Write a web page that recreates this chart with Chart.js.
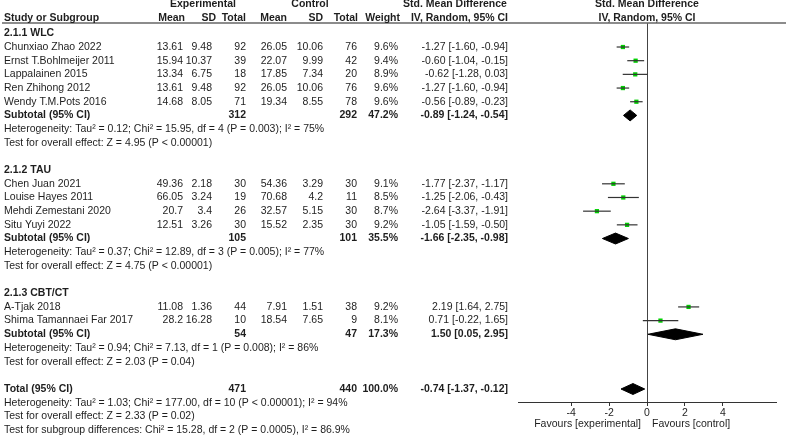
<!DOCTYPE html>
<html>
<head>
<meta charset="utf-8">
<script src="https://cdn.jsdelivr.net/npm/chart.js"></script>
<style>
  html, body { margin: 0; padding: 0; background: #fff; }
  #wrap { position: relative; width: 786px; height: 437px; }
</style>
</head>
<body>
<div id="wrap"><canvas id="forest"></canvas></div>
<script>
// study data
const studies = ['Chunxiao Zhao 2022', 'Ernst T.Bohlmeijer 2011', 'Lappalainen 2015', 'Ren Zhihong 2012', 'Wendy T.M.Pots 2016',
  'Chen Juan 2021', 'Louise Hayes 2011', 'Mehdi Zemestani 2020', 'Situ Yuyi 2022',
  'A-Tjak 2018', 'Shima Tamannaei Far 2017'];
const studyGroup = [0, 0, 0, 0, 0, 1, 1, 1, 1, 2, 2];
const expMean = ['13.61', '15.94', '13.34', '13.61', '14.68', '49.36', '66.05', '20.7', '12.51', '11.08', '28.2'];
const expSD = ['9.48', '10.37', '6.75', '9.48', '8.05', '2.18', '3.24', '3.4', '3.26', '1.36', '16.28'];
const expN = [92, 39, 18, 92, 71, 30, 19, 26, 30, 44, 10];
const ctrlMean = ['26.05', '22.07', '17.85', '26.05', '19.34', '54.36', '70.68', '32.57', '15.52', '7.91', '18.54'];
const ctrlSD = ['10.06', '9.99', '7.34', '10.06', '8.55', '3.29', '4.2', '5.15', '2.35', '1.51', '7.65'];
const ctrlN = [76, 42, 20, 76, 78, 30, 11, 30, 30, 38, 9];
const weight = [9.6, 9.4, 8.9, 9.6, 9.6, 9.1, 8.5, 8.7, 9.2, 9.2, 8.1];
const smd = [-1.27, -0.60, -0.62, -1.27, -0.56, -1.77, -1.25, -2.64, -1.05, 2.19, 0.71];
const ciLow = [-1.60, -1.04, -1.28, -1.60, -0.89, -2.37, -2.06, -3.37, -1.59, 1.64, -0.22];
const ciHigh = [-0.94, -0.15, 0.03, -0.94, -0.23, -1.17, -0.43, -1.91, -0.50, 2.75, 1.65];

// subgroups
const groups = ['2.1.1 WLC', '2.1.2 TAU', '2.1.3 CBT/CT'];
const groupExpN = [312, 105, 54];
const groupCtrlN = [292, 101, 47];
const groupWeight = [47.2, 35.5, 17.3];
const groupSmd = [-0.89, -1.66, 1.50];
const groupLow = [-1.24, -2.35, 0.05];
const groupHigh = [-0.54, -0.98, 2.95];
const groupHet = [
  'Heterogeneity: Tau\u00b2 = 0.12; Chi\u00b2 = 15.95, df = 4 (P = 0.003); I\u00b2 = 75%',
  'Heterogeneity: Tau\u00b2 = 0.37; Chi\u00b2 = 12.89, df = 3 (P = 0.005); I\u00b2 = 77%',
  'Heterogeneity: Tau\u00b2 = 0.94; Chi\u00b2 = 7.13, df = 1 (P = 0.008); I\u00b2 = 86%'
];
const groupTest = [
  'Test for overall effect: Z = 4.95 (P < 0.00001)',
  'Test for overall effect: Z = 4.75 (P < 0.00001)',
  'Test for overall effect: Z = 2.03 (P = 0.04)'
];

// overall
const totalExpN = 471;
const totalCtrlN = 440;
const totalWeight = 100.0;
const totalSmd = -0.74;
const totalLow = -1.37;
const totalHigh = -0.12;
const totalNotes = [
  'Heterogeneity: Tau\u00b2 = 1.03; Chi\u00b2 = 177.00, df = 10 (P < 0.00001); I\u00b2 = 94%',
  'Test for overall effect: Z = 2.33 (P = 0.02)',
  'Test for subgroup differences: Chi\u00b2 = 15.28, df = 2 (P = 0.0005), I\u00b2 = 86.9%'
];

const xTicks = [-4, -2, 0, 2, 4];

// row layout (row 0/1 = headers)
const studyRow = [];
const groupRow = [];
const subRow = [];
let r = 2;
groups.forEach((g, gi) => {
  groupRow.push(r);
  r++;
  studies.forEach((s, i) => { if (studyGroup[i] === gi) studyRow[i] = r++; });
  subRow.push(r);
  r += 4; // subtotal, heterogeneity, test, blank
});
const totalRow = r;

const FONT = '"Liberation Sans", Arial, sans-serif';
const FS = '10.5px ';
const fmt = v => v.toFixed(2);
const ciText = (e, l, h) => fmt(e) + ' [' + fmt(l) + ', ' + fmt(h) + ']';

const diamond = (est, lo, hi, row) => ([
  { x: lo, y: row }, { x: est, y: row - 0.4 }, { x: hi, y: row }, { x: est, y: row + 0.4 }, { x: lo, y: row }
]);

const datasets = [];
studies.forEach((s, i) => {
  datasets.push({
    data: [{ x: ciLow[i], y: studyRow[i] }, { x: ciHigh[i], y: studyRow[i] }],
    showLine: true, borderColor: '#333', borderWidth: 1.2, pointRadius: 0
  });
});
datasets.push({
  data: smd.map((v, i) => ({ x: v, y: studyRow[i] })),
  pointStyle: 'rect', pointRadius: 3, backgroundColor: '#00d000', borderWidth: 0
});
groups.forEach((g, gi) => {
  datasets.push({
    data: diamond(groupSmd[gi], groupLow[gi], groupHigh[gi], subRow[gi]),
    showLine: true, fill: 'shape', backgroundColor: '#000', borderColor: '#000', borderWidth: 1, pointRadius: 0, tension: 0
  });
});
datasets.push({
  data: diamond(totalSmd, totalLow, totalHigh, totalRow),
  showLine: true, fill: 'shape', backgroundColor: '#000', borderColor: '#000', borderWidth: 1, pointRadius: 0, tension: 0
});

const tablePlugin = {
  id: 'table',
  afterDraw(chart) {
    const ctx = chart.ctx;
    const ys = chart.scales.y;
    const txt = (s, x, row, align, bold, dy) => {
      ctx.font = (bold ? 'bold ' : '') + FS + FONT;
      ctx.textAlign = align;
      ctx.fillText(s, x, ys.getPixelForValue(row) + (dy || 0));
    };
    ctx.save();
    ctx.fillStyle = '#1e1e1e';
    ctx.textBaseline = 'middle';

    // header rule
    ctx.strokeStyle = '#666';
    ctx.lineWidth = 1.5;
    ctx.beginPath();
    ctx.moveTo(2, chart.chartArea.top);
    ctx.lineTo(786, chart.chartArea.top);
    ctx.stroke();

    const hy = -1.5;
    txt('Experimental', 203, 0, 'center', true, hy);
    txt('Control', 310, 0, 'center', true, hy);
    txt('Std. Mean Difference', 455, 0, 'center', true, hy);
    txt('Std. Mean Difference', 647, 0, 'center', true, hy);
    txt('Study or Subgroup', 4, 1, 'left', true, hy);
    txt('Mean', 185, 1, 'right', true, hy);
    txt('SD', 216, 1, 'right', true, hy);
    txt('Total', 246, 1, 'right', true, hy);
    txt('Mean', 287, 1, 'right', true, hy);
    txt('SD', 323, 1, 'right', true, hy);
    txt('Total', 358, 1, 'right', true, hy);
    txt('Weight', 400, 1, 'right', true, hy);
    txt('IV, Random, 95% CI', 508, 1, 'right', true, hy);
    txt('IV, Random, 95% CI', 647, 1, 'center', true, hy);

    studies.forEach((s, i) => {
      const row = studyRow[i];
      txt(s, 4, row, 'left');
      txt(expMean[i], 183, row, 'right');
      txt(expSD[i], 212, row, 'right');
      txt(String(expN[i]), 246, row, 'right');
      txt(ctrlMean[i], 287, row, 'right');
      txt(ctrlSD[i], 323, row, 'right');
      txt(String(ctrlN[i]), 357, row, 'right');
      txt(weight[i].toFixed(1) + '%', 398, row, 'right');
      txt(ciText(smd[i], ciLow[i], ciHigh[i]), 508, row, 'right');
    });

    groups.forEach((g, gi) => {
      const sr = subRow[gi];
      txt(g, 4, groupRow[gi], 'left', true);
      txt('Subtotal (95% CI)', 4, sr, 'left', true);
      txt(String(groupExpN[gi]), 246, sr, 'right', true);
      txt(String(groupCtrlN[gi]), 357, sr, 'right', true);
      txt(groupWeight[gi].toFixed(1) + '%', 398, sr, 'right', true);
      txt(ciText(groupSmd[gi], groupLow[gi], groupHigh[gi]), 508, sr, 'right', true);
      txt(groupHet[gi], 4, sr + 1, 'left');
      txt(groupTest[gi], 4, sr + 2, 'left');
    });

    txt('Total (95% CI)', 4, totalRow, 'left', true);
    txt(String(totalExpN), 246, totalRow, 'right', true);
    txt(String(totalCtrlN), 357, totalRow, 'right', true);
    txt(totalWeight.toFixed(1) + '%', 398, totalRow, 'right', true);
    txt(ciText(totalSmd, totalLow, totalHigh), 508, totalRow, 'right', true);
    totalNotes.forEach((t, k) => txt(t, 4, totalRow + 1 + k, 'left'));

    // favours labels under the axis
    ctx.font = FS + FONT;
    ctx.textAlign = 'right';
    ctx.fillText('Favours [experimental]', 641, 424);
    ctx.textAlign = 'left';
    ctx.fillText('Favours [control]', 652, 424);
    ctx.restore();
  }
};

new Chart(document.getElementById('forest'), {
  type: 'scatter',
  data: { datasets: datasets },
  plugins: [tablePlugin],
  options: {
    responsive: true,
    maintainAspectRatio: false,
    animation: false,
    layout: { padding: { left: 518, right: 10, top: 23, bottom: 0 } },
    plugins: { legend: { display: false }, tooltip: { enabled: false } },
    scales: {
      x: {
        type: 'linear',
        min: -6.8,
        max: 6.8,
        afterBuildTicks: s => { s.ticks = xTicks.map(v => ({ value: v })); },
        afterFit: s => { s.height = 35; },
        grid: {
          drawOnChartArea: true,
          color: c => (c.tick && c.tick.value === 0 ? '#444' : 'rgba(0,0,0,0)'),
          tickColor: '#333',
          tickLength: 4
        },
        border: { color: '#333', width: 1 },
        ticks: { color: '#1e1e1e', padding: 1, font: { size: 10.5, family: FONT } }
      },
      y: {
        type: 'linear',
        reverse: true,
        min: 1.245,
        max: 28.95,
        display: false
      }
    }
  }
});
</script>
</body>
</html>
